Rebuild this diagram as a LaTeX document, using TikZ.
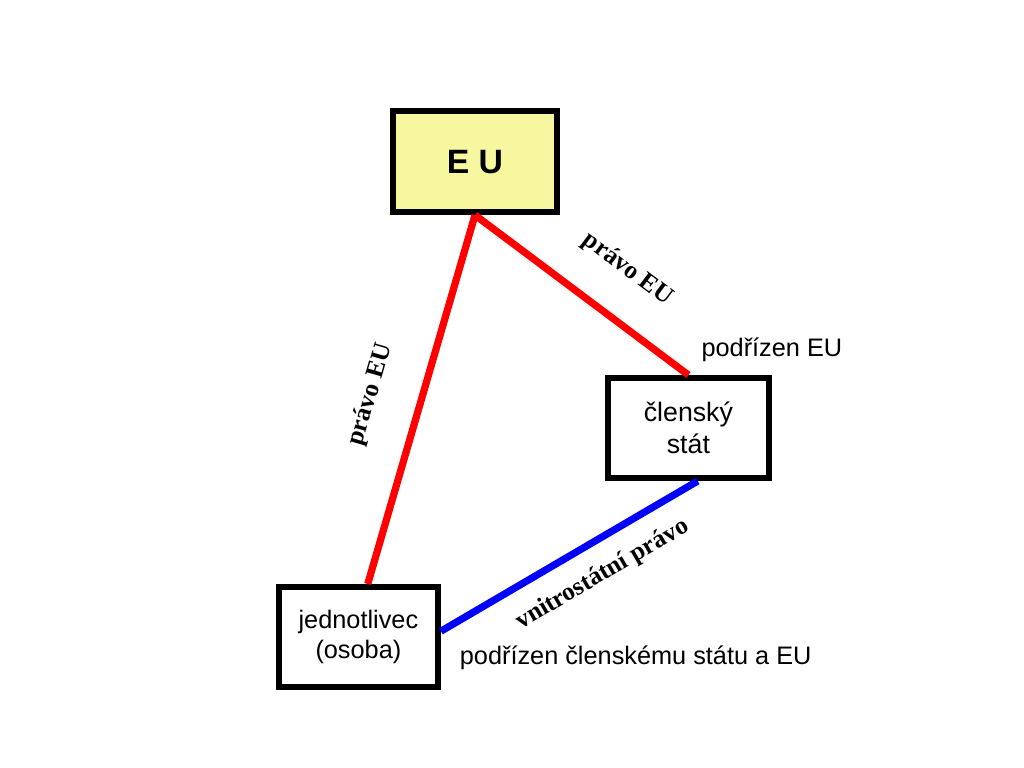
\documentclass[tikz,border=0pt]{standalone}
\usepackage{fontspec}
\setmainfont{Liberation Sans}
\newfontfamily\lawfont{Liberation Serif}
\usepackage{tikz}
\usetikzlibrary{positioning}
\definecolor{euyellow}{RGB}{247,247,160}
\definecolor{lawred}{RGB}{255,0,0}
\definecolor{lawblue}{RGB}{0,0,255}
\tikzset{
  box/.style={draw, line width=0.15cm, minimum width=4cm, minimum height=2.5cm,
    align=center, font=\fontsize{18}{21}\selectfont},
  law/.style={line width=0.18cm},
  lawlabel/.style={sloped, text=black, font=\lawfont\bfseries\fontsize{18}{21}\selectfont},
  note/.style={font=\fontsize{18}{21}\selectfont}
}

\begin{document}
\begin{tikzpicture}
    \useasboundingbox (0, 0) rectangle (25.6, 19.2);

    \node [box, fill=euyellow, minimum width=4.1cm, minimum height=2.525cm,
      font=\bfseries\fontsize{24}{28}\selectfont] (eu) at (11.875, 15.16) {E U};
    \node [box, minimum width=4.025cm, font=\fontsize{19}{23}\selectfont] (state) at (17.21, 8.5) {členský\\stát};
    \node [box, minimum width=3.975cm] (person) at (8.96, 3.275) {jednotlivec\\(osoba)};

    \draw [law, lawred] (eu.south) -- (state.north)
      node [lawlabel, pos=0.58, yshift=1.2cm] {právo EU};
    \draw [law, lawred] (eu.south) -- (person.80)
      node [lawlabel, pos=0.525, yshift=1.25cm] {právo EU};
    \draw [law, lawblue] (person.4) -- (state.-80)
      node [lawlabel, pos=0.565, yshift=-0.82cm] {vnitrostátní právo};

    \node [note, above=0.2cm of state.north east] (stateunder) {podřízen EU};
    \node [note, below right=0.1cm and 0.35cm of person.east] (personunder) {podřízen členskému státu a EU};
  \end{tikzpicture}
\end{document}
